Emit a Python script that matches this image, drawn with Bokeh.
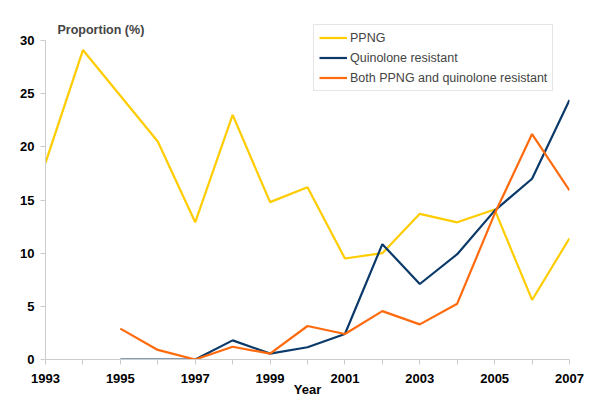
from bokeh.plotting import figure
from bokeh.models import FixedTicker, Label, Legend, LegendItem, Range1d
from bokeh.embed import file_html
from bokeh.resources import INLINE

years_ppng = list(range(1993, 2008))
ppng = [18.5, 29.1, 24.8, 20.5, 12.9, 23.0, 14.8, 16.2, 9.5, 10.0, 13.7, 12.9, 14.1, 5.6, 11.4]

years_q = list(range(1995, 2008))
quinolone = [0.0, 0.0, 0.0, 1.8, 0.55, 1.15, 2.4, 10.85, 7.1, 9.9, 14.0, 17.0, 24.4]
both = [2.9, 0.9, 0.0, 1.2, 0.55, 3.15, 2.4, 4.55, 3.3, 5.25, 13.7, 21.2, 15.9]

x_major = [1993, 1995, 1997, 1999, 2001, 2003, 2005, 2007]
x_minor = [1994, 1996, 1998, 2000, 2002, 2004, 2006]
y_ticks = [0, 5, 10, 15, 20, 25, 30]

FONT = "Liberation Sans"
AXIS_GREY = "#cccccc"

# frame: x 45..569, y(0)=359, y(30)=40 ; frame top extended to 14 px for title/legend
PX_PER_UNIT = (359 - 40) / 30.0
Y_TOP = 30 + (40 - 14) / PX_PER_UNIT

p = figure(width=592, height=407, output_backend="svg", toolbar_location=None,
           x_range=Range1d(1993, 2007), y_range=Range1d(0, Y_TOP),
           min_border_left=45, min_border_right=23, min_border_top=14, min_border_bottom=48)
p.outline_line_color = None
p.xgrid.visible = False
p.ygrid.visible = False

l1 = p.line(years_ppng, ppng, line_color="#FFCC00", line_width=2.2)
l2 = p.line(years_q, quinolone, line_color="#0B3A6A", line_width=2.2)
l3 = p.line(years_q, both, line_color="#FF6A0D", line_width=2.2)

for ax in (p.xaxis[0], p.yaxis[0]):
    ax.axis_line_color = AXIS_GREY
    ax.major_tick_line_color = AXIS_GREY
    ax.minor_tick_line_color = AXIS_GREY
    ax.major_tick_in = 0
    ax.major_tick_out = 5
    ax.minor_tick_in = 0
    ax.minor_tick_out = 5
    ax.major_label_text_font = FONT
    ax.major_label_text_font_style = "bold"
    ax.major_label_text_font_size = "13px"
    ax.major_label_text_color = "#000000"

p.xaxis.ticker = FixedTicker(ticks=x_major, minor_ticks=x_minor)
p.yaxis.ticker = FixedTicker(ticks=y_ticks, minor_ticks=[])
p.yaxis.minor_tick_line_color = None
p.yaxis.bounds = (0, 30)
p.xaxis.major_label_standoff = 9
p.yaxis.major_label_standoff = 6

p.xaxis.axis_label = "Year"
p.xaxis.axis_label_text_font = FONT
p.xaxis.axis_label_text_font_style = "bold"
p.xaxis.axis_label_text_font_size = "13px"
p.xaxis.axis_label_text_color = "#000000"
p.xaxis.axis_label_standoff = -4

p.add_layout(Label(x=1993, y=30, x_offset=12, y_offset=11, text="Proportion (%)",
                   text_font=FONT, text_font_style="bold", text_font_size="12.5px",
                   text_baseline="middle", text_align="left"))

legend = Legend(items=[
    LegendItem(label="PPNG", renderers=[l1]),
    LegendItem(label="Quinolone resistant", renderers=[l2]),
    LegendItem(label="Both PPNG and quinolone resistant", renderers=[l3]),
], location=(268, 268))
legend.border_line_color = AXIS_GREY
legend.border_line_width = 1
legend.background_fill_alpha = 1
legend.label_text_font = FONT
legend.label_text_font_size = "12.5px"
legend.glyph_width = 28
legend.glyph_height = 15
legend.label_height = 15
legend.label_standoff = 3
legend.spacing = 5
legend.padding = 5
legend.margin = 0
p.add_layout(legend, "center")

open("out.html", "w").write(file_html(p, INLINE))
